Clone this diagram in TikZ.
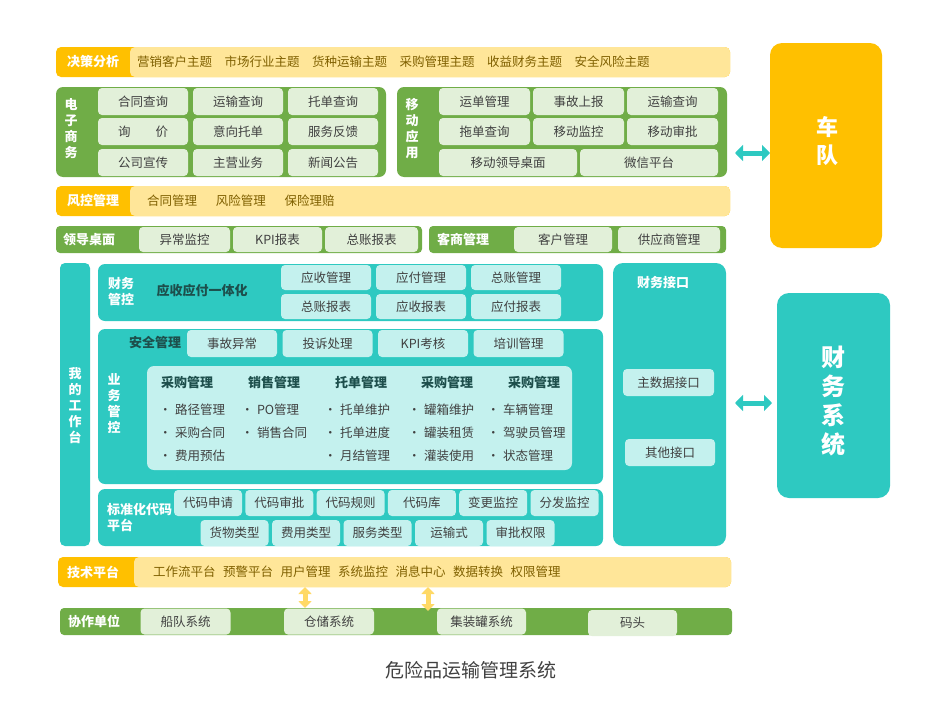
\documentclass[tikz,border=0pt]{standalone}
\usepackage{fontspec}
\setmainfont{Noto Sans CJK SC}
\usetikzlibrary{arrows.meta,calc}

\definecolor{orgA}{HTML}{FFC000}
\definecolor{ylw}{HTML}{FFE699}
\definecolor{ytx}{HTML}{7F6000}
\definecolor{grn}{HTML}{70AD47}
\definecolor{lgrn}{HTML}{E2F0D9}
\definecolor{tealA}{HTML}{2EC9C1}
\definecolor{lcyan}{HTML}{C4F1EE}
\definecolor{dtxt}{HTML}{404040}
\definecolor{dteal}{HTML}{1D4F4C}
\definecolor{yarr}{HTML}{FFD966}

\newcommand{\itm}[1]{\makebox[16pt][l]{\textbullet}#1}

\tikzset{
  sz/.style 2 args={minimum width=#1pt, minimum height=#2pt},
  pan/.style={anchor=north west, rounded corners=#1},
  pan/.default=5pt,
  lab/.style={font=\fontsize{13}{16}\selectfont\bfseries, text=white},
  vlab/.style={lab, align=center},
  dlab/.style={font=\fontsize{13}{16}\selectfont\bfseries, text=dteal},
  biglab/.style={align=center, text=white, font=\fontsize{22}{28}\selectfont\bfseries},
  txt/.style={font=\fontsize{12.5}{15}\selectfont, text=dtxt},
  ytxt/.style={font=\fontsize{12.5}{15}\selectfont, text=ytx},
  gcell/.style={fill=lgrn, rounded corners=4pt, txt},
  ccell/.style={fill=lcyan, rounded corners=4pt, txt},
  tarrow/.style={draw=tealA, line width=5pt, {Triangle[width=16pt,length=8pt]}-{Triangle[width=16pt,length=8pt]}},
  yarrow/.style={draw=yarr, line width=5pt, {Triangle[width=13pt,length=7pt]}-{Triangle[width=13pt,length=7pt]}}
}

\begin{document}
\begin{tikzpicture}[x=1pt,y=-1pt, every node/.style={inner sep=0pt, outer sep=0pt}]
\useasboundingbox (0,0) rectangle (940,720);

% decision row
\node[pan, fill=orgA, sz={674}{30}] (jc) at (56,47) {};
\node[pan, fill=ylw, sz={600}{30}] (jcy) at (130,47) {};
\node[lab] (jcl) at (93,62) {决策分析};
\node[ytxt, anchor=west] (jct) at (137,62) {营销客户主题\hspace{1em}市场行业主题\hspace{1em}货种运输主题\hspace{1em}采购管理主题\hspace{1em}收益财务主题\hspace{1em}安全风险主题};

% e-commerce
\node[pan=7pt, fill=grn, sz={330}{90}] (ds) at (56,87) {};
\node[vlab] (dsl) at (71,129) {电\\子\\商\\务};
\node[gcell, sz={90}{27}] (ds1) at (143,101.5) {合同查询};
\node[gcell, sz={90}{27}] (ds2) at (238,101.5) {运输查询};
\node[gcell, sz={90}{27}] (ds3) at (333,101.5) {托单查询};
\node[gcell, sz={90}{27}] (ds4) at (143,131.5) {询\hspace{2em}价};
\node[gcell, sz={90}{27}] (ds5) at (238,131.5) {意向托单};
\node[gcell, sz={90}{27}] (ds6) at (333,131.5) {服务反馈};
\node[gcell, sz={90}{27}] (ds7) at (143,162.5) {公司宣传};
\node[gcell, sz={90}{27}] (ds8) at (238,162.5) {主营业务};
\node[gcell, sz={90}{27}] (ds9) at (333,162.5) {新闻公告};

% mobile
\node[pan=7pt, fill=grn, sz={330}{90}] (yd) at (397,87) {};
\node[vlab] (ydl) at (412,129) {移\\动\\应\\用};
\node[gcell, sz={91}{27}] (yd1) at (484.5,101.5) {运单管理};
\node[gcell, sz={91}{27}] (yd2) at (578.5,101.5) {事故上报};
\node[gcell, sz={91}{27}] (yd3) at (672.5,101.5) {运输查询};
\node[gcell, sz={91}{27}] (yd4) at (484.5,131.5) {拖单查询};
\node[gcell, sz={91}{27}] (yd5) at (578.5,131.5) {移动监控};
\node[gcell, sz={91}{27}] (yd6) at (672.5,131.5) {移动审批};
\node[gcell, sz={138}{27}] (yd7) at (508,162.5) {移动领导桌面};
\node[gcell, sz={138}{27}] (yd8) at (649,162.5) {微信平台};

% fleet
\node[pan=12pt, fill=orgA, sz={112}{205}] (cd) at (770,43) {};
\node[biglab] (cdl) at (827,141) {车\\队};
\coordinate (r1) at (0,153);
\draw[tarrow, shorten <=8pt] (yd.east |- r1) -- (cd.west |- r1);

% risk row
\node[pan, fill=orgA, sz={674}{30}] (fk) at (56,186) {};
\node[pan, fill=ylw, sz={600}{30}] (fky) at (130,186) {};
\node[lab] (fkl) at (93,201) {风控管理};
\node[ytxt, anchor=west] (fkt) at (147,201) {合同管理\hspace{1.5em}风险管理\hspace{1.5em}保险理赔};

% leader desk / customers
\node[pan=4pt, fill=grn, sz={366}{27}] (ld) at (56,226) {};
\node[lab] (ldl) at (89,239.5) {领导桌面};
\node[gcell, sz={91}{25}] (ld1) at (184.5,239.5) {异常监控};
\node[gcell, sz={89}{25}] (ld2) at (277.5,239.5) {KPI报表};
\node[gcell, sz={93}{25}] (ld3) at (371.5,239.5) {总账报表};

\node[pan=4pt, fill=grn, sz={297}{27}] (ks) at (429,226) {};
\node[lab] (ksl) at (463,239.5) {客商管理};
\node[gcell, sz={98}{25}] (ks1) at (563,239.5) {客户管理};
\node[gcell, sz={102}{25}] (ks2) at (669,239.5) {供应商管理};

% workbench
\node[pan, fill=tealA, sz={30}{283}] (wd) at (60,263) {};
\node[vlab] (wdl) at (75,406) {我\\的\\工\\作\\台};

% finance control
\node[pan=7pt, fill=tealA, sz={505}{57}] (cw) at (98,264) {};
\node[vlab] (cwl) at (121,292) {财务\\管控};
\node[dlab] (cwt) at (202,291) {应收应付一体化};
\node[ccell, sz={90}{25}] (cw1) at (326,277.5) {应收管理};
\node[ccell, sz={90}{25}] (cw2) at (421,277.5) {应付管理};
\node[ccell, sz={90}{25}] (cw3) at (516,277.5) {总账管理};
\node[ccell, sz={90}{25}] (cw4) at (326,306.5) {总账报表};
\node[ccell, sz={90}{25}] (cw5) at (421,306.5) {应收报表};
\node[ccell, sz={90}{25}] (cw6) at (516,306.5) {应付报表};

% finance interface / system
\node[pan=10pt, fill=tealA, sz={113}{283}] (jk) at (613,263) {};
\node[lab] (jkl) at (663,283) {财务接口};
\node[ccell, sz={91}{27}] (jk1) at (668.5,382.5) {主数据接口};
\node[ccell, sz={90}{27}] (jk2) at (670,452.5) {其他接口};

\node[pan=12pt, fill=tealA, sz={113}{205}] (cx) at (777,293) {};
\node[biglab, font=\fontsize{24}{29}\selectfont\bfseries] (cxl) at (833,401) {财\\务\\系\\统};
\coordinate (r2) at (0,403);
\draw[tarrow, shorten <=9pt, shorten >=5pt] (jk.east |- r2) -- (cx.west |- r2);

% business control
\node[pan=7pt, fill=tealA, sz={505}{155}] (yw) at (98,329) {};
\node[dlab] (aq) at (155,343) {安全管理};
\node[ccell, sz={90}{27}] (aq1) at (232,343.5) {事故异常};
\node[ccell, sz={90}{27}] (aq2) at (327.5,343.5) {投诉处理};
\node[ccell, sz={90}{27}] (aq3) at (423,343.5) {KPI考核};
\node[ccell, sz={90}{27}] (aq4) at (518.5,343.5) {培训管理};
\node[vlab] (ywl) at (114,404) {业\\务\\管\\控};
\node[pan=7pt, fill=lcyan, sz={425}{104}] (yi) at (147,366) {};

\node[dlab] (h1) at (187,383) {采购管理};
\node[dlab] (h2) at (274,383) {销售管理};
\node[dlab] (h3) at (361,383) {托单管理};
\node[dlab] (h4) at (447,383) {采购管理};
\node[dlab] (h5) at (534,383) {采购管理};

\node[txt, anchor=west] (i11) at (159,410) {\itm{路径管理}};
\node[txt, anchor=west] (i12) at (159,433) {\itm{采购合同}};
\node[txt, anchor=west] (i13) at (159,456) {\itm{费用预估}};
\node[txt, anchor=west] (i21) at (241,410) {\itm{PO管理}};
\node[txt, anchor=west] (i22) at (241,433) {\itm{销售合同}};
\node[txt, anchor=west] (i31) at (324,410) {\itm{托单维护}};
\node[txt, anchor=west] (i32) at (324,433) {\itm{托单进度}};
\node[txt, anchor=west] (i33) at (324,456) {\itm{月结管理}};
\node[txt, anchor=west] (i41) at (408,410) {\itm{罐箱维护}};
\node[txt, anchor=west] (i42) at (408,433) {\itm{罐装租赁}};
\node[txt, anchor=west] (i43) at (408,456) {\itm{灌装使用}};
\node[txt, anchor=west] (i51) at (487,410) {\itm{车辆管理}};
\node[txt, anchor=west] (i52) at (487,433) {\itm{驾驶员管理}};
\node[txt, anchor=west] (i53) at (487,456) {\itm{状态管理}};

% standard code platform
\node[pan=7pt, fill=tealA, sz={505}{57}] (bz) at (98,489) {};
\node[lab, anchor=west, align=left] (bzl) at (107,518) {标准化代码\\平台};
\node[ccell, sz={68}{26}] (bz1) at (208,503) {代码申请};
\node[ccell, sz={68}{26}] (bz2) at (279.3,503) {代码审批};
\node[ccell, sz={68}{26}] (bz3) at (350.6,503) {代码规则};
\node[ccell, sz={68}{26}] (bz4) at (421.9,503) {代码库};
\node[ccell, sz={68}{26}] (bz5) at (493.2,503) {变更监控};
\node[ccell, sz={68}{26}] (bz6) at (564.5,503) {分发监控};
\node[ccell, sz={68}{26}] (bz7) at (234.5,533) {货物类型};
\node[ccell, sz={68}{26}] (bz8) at (306,533) {费用类型};
\node[ccell, sz={68}{26}] (bz9) at (377.5,533) {服务类型};
\node[ccell, sz={68}{26}] (bz10) at (449,533) {运输式};
\node[ccell, sz={68}{26}] (bz11) at (520.5,533) {审批权限};

% tech platform
\node[pan, fill=orgA, sz={673}{30}] (js) at (58,557) {};
\node[pan, fill=ylw, sz={597}{30}] (jsy) at (134,557) {};
\node[lab] (jsl) at (93,572) {技术平台};
\node[ytxt, anchor=west] (jst) at (153,572) {工作流平台\hspace{.6em}预警平台\hspace{.6em}用户管理\hspace{.6em}系统监控\hspace{.6em}消息中心\hspace{.6em}数据转换\hspace{.6em}权限管理};

% partners
\node[pan=4pt, fill=grn, sz={672}{27}] (xz) at (60,608) {};
\node[lab] (xzl) at (94,621.5) {协作单位};
\node[gcell, sz={90}{26}] (xz1) at (185.5,621.5) {船队系统};
\node[gcell, sz={90}{26}] (xz2) at (329,621.5) {仓储系统};
\node[gcell, sz={89}{26}] (xz3) at (481.5,621.5) {集装罐系统};
\node[gcell, sz={89}{26}] (xz4) at (632.5,623) {码头};

\coordinate (p1) at (305,0);
\coordinate (p2) at (428,0);
\draw[yarrow] (js.south -| p1) -- (xz.north -| p1);
\draw[yarrow, shorten >=-3pt] (js.south -| p2) -- (xz.north -| p2);

\node[font=\fontsize{19}{22}\selectfont, text=dtxt] (tt) at (471,670) {危险品运输管理系统};
\end{tikzpicture}
\end{document}
